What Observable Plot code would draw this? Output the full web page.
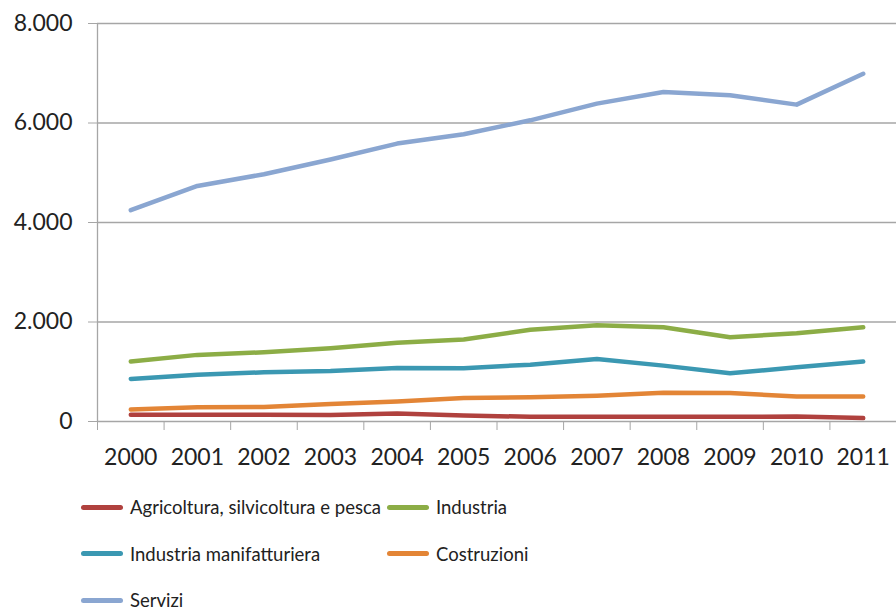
<!DOCTYPE html>
<html>
<head>
<meta charset="utf-8">
<script src="https://cdn.jsdelivr.net/npm/d3@7"></script>
<script src="https://cdn.jsdelivr.net/npm/@observablehq/plot@0.6"></script>
<style>
  html, body { margin: 0; padding: 0; background: #fff; }
  #chart { width: 896px; }
  .legend { position: relative; width: 896px; font-family: Lato, sans-serif; font-size: 18.5px; color: #222; }
  .row { height: 46.5px; position: relative; }
  .item { position: absolute; top: 0; height: 46.5px; display: flex; align-items: center; }
  .sw { width: 42px; height: 5px; border-radius: 3px; margin-right: 7px; }
</style>
</head>
<body>
<div id="chart"></div>
<script>
const years = [2000, 2001, 2002, 2003, 2004, 2005, 2006, 2007, 2008, 2009, 2010, 2011];
const seriesNames = ["Agricoltura, silvicoltura e pesca", "Industria", "Industria manifatturiera", "Costruzioni", "Servizi"];
const colors = ["#b0413e", "#8cad46", "#3b98b2", "#e38536", "#8aa6d1"];
const agricoltura = [135, 135, 135, 130, 160, 121, 95, 95, 95, 95, 100, 68];
const industria = [1204, 1339, 1391, 1472, 1581, 1647, 1843, 1935, 1895, 1694, 1774, 1895];
const manifatturiera = [855, 942, 988, 1016, 1077, 1069, 1143, 1258, 1123, 968, 1089, 1204];
const costruzioni = [242, 285, 290, 350, 403, 472, 485, 518, 579, 572, 504, 504];
const servizi = [4247, 4735, 4970, 5265, 5586, 5775, 6054, 6390, 6623, 6556, 6369, 6990];
const yTicks = [0, 2000, 4000, 6000, 8000];

const allSeries = [agricoltura, industria, manifatturiera, costruzioni, servizi];
const data = allSeries.flatMap((vals, i) => vals.map((v, j) => ({series: seriesNames[i], year: years[j], value: v})));
const boundaries = [years[0] - 0.5, ...years.map(y => y + 0.5)];
const itFmt = d3.formatLocale({decimal: ",", thousands: ".", grouping: [3], currency: ["€", ""]}).format(",");
const grid = "#a6a6a6";

const chart = Plot.plot({
  width: 896,
  height: 484,
  marginLeft: 97,
  marginRight: 0,
  marginTop: 23,
  marginBottom: 63,
  style: {fontFamily: "Lato, sans-serif", fontSize: "23px", background: "#fff", overflow: "visible"},
  x: {type: "linear", domain: [years[0] - 0.5, years[years.length - 1] + 0.5]},
  y: {domain: [0, 8000]},
  color: {domain: seriesNames, range: colors},
  marks: [
    Plot.gridY(yTicks, {stroke: grid, strokeOpacity: 1, strokeWidth: 1.3}),
    Plot.ruleX([years[0] - 0.5], {stroke: grid, strokeWidth: 1.3}),
    Plot.axisY({ticks: yTicks, tickSize: 9, tickPadding: 16, tickFormat: itFmt, label: null, stroke: grid, fill: "#222"}),
    Plot.axisX({ticks: boundaries, tickSize: 9, tickFormat: () => "", label: null, stroke: grid}),
    Plot.axisX({ticks: years, tickSize: 0, tickPadding: 27, tickFormat: d => String(d), label: null, fill: "#222"}),
    Plot.line(data, {x: "year", y: "value", z: "series", stroke: "series", strokeWidth: 4.5, strokeLinecap: "round", strokeLinejoin: "round"})
  ]
});
document.getElementById("chart").append(chart);

// legend
const layout = [[0, 1], [2, 3], [4]];
const colLeft = [81, 387];
const legend = document.createElement("div");
legend.className = "legend";
layout.forEach(r => {
  const row = document.createElement("div");
  row.className = "row";
  r.forEach((idx, c) => {
    const it = document.createElement("div");
    it.className = "item";
    it.style.left = colLeft[c] + "px";
    const sw = document.createElement("div");
    sw.className = "sw";
    sw.style.background = colors[idx];
    const tx = document.createElement("span");
    tx.textContent = seriesNames[idx];
    it.append(sw, tx);
    row.append(it);
  });
  legend.append(row);
});
document.getElementById("chart").append(legend);
</script>
</body>
</html>
